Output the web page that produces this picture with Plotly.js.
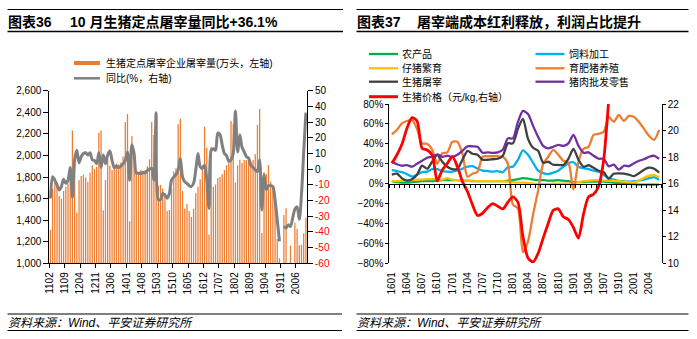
<!DOCTYPE html>
<html><head><meta charset="utf-8">
<script src="https://cdn.plot.ly/plotly-3.0.1.min.js"></script>
<style>html,body{margin:0;padding:0;background:#fff}#chart{width:697px;height:339px}</style>
</head><body><div id="chart"></div>
<script>
// ---------- Chart 36: hog slaughter volume & YoY ----------
const slaughterMonths = [
 '1102','1103','1104','1105','1106','1107','1108','1109','1110','1111','1112',
 '1201','1202','1203','1204','1205','1206','1207','1208','1209','1210','1211','1212',
 '1301','1302','1303','1304','1305','1306','1307','1308','1309','1310','1311','1312',
 '1401','1402','1403','1404','1405','1406','1407','1408','1409','1410','1411','1412',
 '1501','1502','1503','1504','1505','1506','1507','1508','1509','1510','1511','1512',
 '1601','1602','1603','1604','1605','1606','1607','1608','1609','1610','1611','1612',
 '1701','1702','1703','1704','1705','1706','1707','1708','1709','1710','1711','1712',
 '1801','1802','1803','1804','1805','1806','1807','1808','1809','1810','1811','1812',
 '1901','1902','1903','1904','1905','1906','1907','1908','1909','1910','1911','1912',
 '2001','2002','2003','2004','2005','2006','2007','2008','2009','2010'];
const slaughterVolume = [
 1310,1690,1750,1740,1625,1595,1670,1710,1740,1780,2230,
 2010,1470,1770,1810,1820,1795,1755,1840,1910,1875,1895,2210,
 2230,1490,1770,1960,1905,1865,1880,1925,1915,1935,1990,2310,
 2385,1390,2180,1990,1865,1835,1865,1835,1865,1900,1965,2310,
 2190,1800,1720,1725,1690,1650,1485,1495,1695,1850,1880,2290,
 2340,1670,1505,1550,1485,1430,1505,1650,1710,1780,1910,2265,
 2070,1265,2080,1710,1730,1790,1800,1825,1865,1910,1935,2320,
 2290,1750,1910,1960,1930,1958,1958,1950,1936,1958,2010,2282,
 2430,1280,1843,1830,1911,1757,1710,1560,1225,1046,null,1448,
 1510,null,1164,null,1377,1318,1167,1173,1278,1423];
const slaughterYoY = [
 -18.6,-4.8,-7,-10,-13.3,-11,-6.5,-9,-7,1,-18,
 6,12,4,8,10,10.5,9,10.5,6,5.5,3.5,10.5,
 1,9,3.5,9,11.5,5.5,1,2,1,2,3.5,5.5,
 11,-7,15.5,10,-2.5,-2.5,-3,-2,-2.5,-1,0,0.5,
 -7,36,-19.5,-19.5,-15.5,-16.5,-18.5,-15.5,-7,-5,-3.5,-0.5,
 7,-5,-8,-9,-10.5,-11,-9,-0.5,10,1.5,0.5,2.5,
 -7,-25,12,13,12,23,22,15.5,10,8.5,5,6,
 10,37,11,22,14,11,8,7,2.5,1,-0.5,-1.5,
 6,-26,-3.5,-13,-10.5,-10.5,-11,-19.5,-32.5,-46,null,-36.5,
 -37.5,-35.5,-36.5,-31,-25.5,-24,-32,-16,11,36];
const slaughterTickLabels = ['1102','1109','1204','1211','1306','1401','1408','1503','1510','1605','1612','1707','1802','1809','1904','1911','2006'];
const leftAxisTicks = [1000,1200,1400,1600,1800,2000,2200,2400,2600];
const rightAxisTicks = [-60,-50,-40,-30,-20,-10,0,10,20,30,40,50];
const slaughterNames = ['生猪定点屠宰企业屠宰量(万头，左轴)','同比(%，右轴)'];

// ---------- Chart 37: profit share along the chain ----------
const profitMonths = [
 '1601','1602','1603','1604','1605','1606','1607','1608','1609','1610','1611','1612',
 '1701','1702','1703','1704','1705','1706','1707','1708','1709','1710','1711','1712',
 '1801','1802','1803','1804','1805','1806','1807','1808','1809','1810','1811','1812',
 '1901','1902','1903','1904','1905','1906','1907','1908','1909','1910','1911','1912',
 '2001','2002','2003','2004','2005','2006'];
const agriProducts = [2.5,1.5,1,1,1.5,2,2.5,2.5,2.5,3,3.5,3.5, 3.5,3.5,3,3,2.5,2.5,2.5,2.5,2.5,2.5,2.5,3, 3.5,4.5,5.5,5,4,3.5,3.5,3,3,3.5,3,2.5, 1.5,1.5,1.5,2,2,2,2,1.5,1,0.5,0,0, -0.5,-1,-1,-1,-1,-1];
const feedProcessing = [13.5,12.7,11.5,9.5,7,9,11.5,12,14.5,14.5,12.5,12, 12,13.5,15,17,17.5,15,13,12.7,12,12.5,11.5,16.5, 17,24,33.5,29,21,13,10.5,9.5,11,13,17,20.5, 21.5,17,15.5,14.5,13,12,9,5.5,4,2.7,2.2,2, 2.5,3,4,5.5,6.5,4];
const pigletBreeding = [2.5,2.5,3,3.5,3.5,4,4,4.5,4.5,4.5,4,5.5, 4,3.5,3.5,3,3,2.5,2.5,2.5,2.5,2.5,2.5,2, 1.5,1,1,0.5,0,-0.5,-0.5,-0.5,0,0,0,0, 0.5,1.5,2.5,3,3.5,3.5,3,3,2.7,2.5,2,1.5, 1.3,3,6,8,8.5,6.5];
const hogFattening = [49.6,53.9,60.6,62.9,63.9,55,40.5,40,34,20,30.5,31.5, 42,42,30,7,10,12,27,27.5,27.5,27.5,27,20, -21,-25,-69,-58,-31,-7,20,27,34,29,23,21, -6,22,35,37,49,50,52,67,62,69,63,68, 67,62,55,48,44,54];
const hogSlaughter = [9,10,5.5,3,4.5,9,18,15,22,29,22,17, 14.5,15,24,33,30,29,24,24,24.5,25,28,40.5, 40.5,55,65,45,36,33,21,22,19,18.8,18.8,25, 35,24,17,18.5,16,13,11.5,5,10,10.4,10,9, 7.5,10.5,14,16,15,11];
const porkWholesaleRetail = [22,19.5,18,18.5,17,20,23,26,27,29.5,27,28, 27,29,33,37.5,37.5,37,31,31.5,31,31.5,34,45.5, 45.5,62,73,70,58,47,38,35.5,37,39,38,40.5, 49,38,31,31.5,28,25,25,17.5,19,14,18,17.5, 20.5,23,24.5,27,28,25];
const hogPrice = [17.53,18.16,18.96,20.17,20.97,20.72,18.66,18.53,18.16,16.2,17.03,17.53, 18.03,17.28,16.15,15.4,14.4,13.6,13.77,14.2,14.5,14.3,14.1,14.6, 15.0,14.6,12.0,10.4,10.1,10.75,11.9,13.0,14.0,14.1,13.5,13.3, 12.7,11.9,13.7,15.0,15.2,15.8,17.8,22.3,27,null,null,null,null,null,null,null,null,null];
const profitTickLabels = ['1601','1604','1607','1610','1701','1704','1707','1710','1801','1804','1807','1810','1901','1904','1907','1910','2001','2004'];
const profitNames = ['农产品','饲料加工','仔猪繁育','育肥猪养殖','生猪屠宰','猪肉批发零售','生猪价格（元/kg,右轴）'];
const profitColors = ['#00B050','#00B0F0','#FFC000','#ED7D31','#404040','#7030A0','#FF0000'];

// ---------- helpers ----------
const W = 697, H = 339;
const px = x => x / W, py = y => 1 - y / H;
const FONT = "'Liberation Sans', Arial, 'Noto Sans CJK SC', sans-serif";
const tf = {family: FONT, size: 10, color: '#000'};
const idx = arr => arr.map((_, i) => i);

const traces = [];
traces.push({type: 'bar', x: idx(slaughterMonths), y: slaughterVolume, xaxis: 'x', yaxis: 'y',
  marker: {color: '#ED7D31', line: {width: 0}}, name: slaughterNames[0], hoverinfo: 'skip'});
traces.push({type: 'scatter', mode: 'lines', x: idx(slaughterMonths), y: slaughterYoY, xaxis: 'x', yaxis: 'y2',
  line: {color: '#808080', width: 3, shape: 'spline', smoothing: 0.8}, connectgaps: false, name: slaughterNames[1], hoverinfo: 'skip'});

const profitSeries = [agriProducts, feedProcessing, pigletBreeding, hogFattening, hogSlaughter, porkWholesaleRetail];
profitSeries.forEach((s, k) => traces.push({type: 'scatter', mode: 'lines', x: idx(profitMonths), y: s, xaxis: 'x3', yaxis: 'y3',
  line: {color: profitColors[k], width: 2.3, shape: 'spline', smoothing: 0.7}, name: profitNames[k], hoverinfo: 'skip'}));
traces.push({type: 'scatter', mode: 'lines', x: idx(profitMonths), y: hogPrice, xaxis: 'x3', yaxis: 'y4',
  line: {color: profitColors[6], width: 2.8, shape: 'spline', smoothing: 0.7}, name: profitNames[6], hoverinfo: 'skip'});
// carrier for the zero-line category axis
traces.push({type: 'scatter', mode: 'lines', x: [], y: [], xaxis: 'x4', yaxis: 'y3', showlegend: false, hoverinfo: 'skip'});

const leftDom = [py(263.3), py(90.7)];
const rightDom = [py(263.3), py(104)];
const y3Range = [-80, 80];
const zeroPos = rightDom[0] + (0 - y3Range[0]) / (y3Range[1] - y3Range[0]) * (rightDom[1] - rightDom[0]);

const shapes = [], annotations = [];
function hline(x0, x1, y, w, c) {
  shapes.push({type: 'line', xref: 'paper', yref: 'paper', x0: px(x0), x1: px(x1), y0: py(y), y1: py(y), line: {color: c, width: w}});
}
function label(text, x, y, size, extra) {
  annotations.push(Object.assign({text: text, xref: 'paper', yref: 'paper', x: px(x), y: py(y), xanchor: 'left', yanchor: 'middle',
    showarrow: false, borderpad: 0, borderwidth: 0, font: {family: FONT, size: size, color: '#000'}}, extra || {}));
}
// frame rules
hline(7.5, 343, 9.5, 1, '#000'); hline(7.5, 343, 31.5, 1.3, '#000');
hline(7.5, 342, 314, 1, '#000'); hline(7.5, 342, 330.5, 1, '#000');
hline(356.5, 688.5, 9.5, 1, '#000'); hline(356.5, 688.5, 31.5, 1.3, '#000');
hline(356.5, 688.5, 314, 1, '#000'); hline(356.5, 688.5, 330.5, 1, '#000');
// titles
label('<b>图表36</b>', 8, 21.5, 14);
label('<b>10 月生猪定点屠宰量同比+36.1%</b>', 70, 21.5, 14);
label('<b>图表37</b>', 357, 21.5, 14);
label('<b>屠宰端成本红利释放，利润占比提升</b>', 416.5, 21.5, 14);
// sources
label('<i>资料来源：Wind、平安证券研究所</i>', 8, 322.5, 12);
label('<i>资料来源：Wind、平安证券研究所</i>', 357, 322.5, 12);
// left legend
shapes.push({type: 'rect', xref: 'paper', yref: 'paper', x0: px(74), x1: px(100), y0: py(65), y1: py(61), fillcolor: '#ED7D31', line: {width: 0}});
hline(74, 100, 78.3, 2.5, '#808080');
label(slaughterNames[0], 106, 63, 10);
label(slaughterNames[1], 106, 78.3, 10);
// right legend (two columns)
const legRows = [54, 68.3, 81.7, 96.7];
profitNames.forEach((n, k) => {
  const row = Math.floor(k / 2), col = k % 2;
  const lx = col === 0 ? 369 : 535.5;
  hline(lx, lx + 29, legRows[row], k === 6 ? 3 : 2.3, profitColors[k]);
  label(n, lx + 33, legRows[row], 10);
});

const leftTickVals = slaughterTickLabels.map(t => slaughterMonths.indexOf(t) - 0.5);
const rightTickVals = profitTickLabels.map(t => profitMonths.indexOf(t));
const zeroTickVals = idx(profitMonths).concat([profitMonths.length]).map(i => i - 0.5);

const layout = {
  width: W, height: H, autosize: false, margin: {l: 0, r: 0, t: 0, b: 0, pad: 0},
  paper_bgcolor: '#fff', plot_bgcolor: 'rgba(0,0,0,0)', showlegend: false, hovermode: false,
  bargap: 0.42, font: {family: FONT, size: 10, color: '#000'},
  xaxis: {domain: [px(49.3), px(307)], anchor: 'y', range: [-0.5, slaughterMonths.length - 0.5],
    tickmode: 'array', tickvals: leftTickVals, ticktext: slaughterTickLabels, tickangle: -90,
    ticks: 'outside', ticklen: 4, tickcolor: '#000', showline: true, linecolor: '#000', linewidth: 1,
    showgrid: false, zeroline: false, tickfont: tf},
  yaxis: {domain: leftDom, anchor: 'x', range: [1000, 2600], tickmode: 'array', tickvals: leftAxisTicks,
    tickformat: ',d', ticks: 'outside', ticklen: 5, tickcolor: '#000', showline: true, linecolor: '#000',
    showgrid: false, zeroline: false, tickfont: tf},
  yaxis2: {overlaying: 'y', side: 'right', anchor: 'x', range: [-60, 50], tickmode: 'array', tickvals: rightAxisTicks,
    ticktext: rightAxisTicks.map(v => v < 0 ? '<span style="color:#FF0000">' + v + '</span>' : String(v)),
    ticks: 'outside', ticklen: 5, tickcolor: '#000', showline: true, linecolor: '#000', showgrid: false, zeroline: false, tickfont: tf},
  xaxis3: {domain: [px(389.3), px(661.7)], anchor: 'y3', range: [-0.5, profitMonths.length - 0.5],
    tickmode: 'array', tickvals: rightTickVals, ticktext: profitTickLabels, tickangle: -90,
    ticks: 'outside', ticklen: 4, tickcolor: 'rgba(0,0,0,0)', showline: false, showgrid: false, zeroline: false, tickfont: tf},
  xaxis4: {overlaying: 'x3', anchor: 'free', position: zeroPos, range: [-0.5, profitMonths.length - 0.5],
    tickmode: 'array', tickvals: zeroTickVals, ticks: 'outside', ticklen: 3, tickcolor: '#000', showticklabels: false,
    showline: true, linecolor: '#000', linewidth: 1, showgrid: false, zeroline: false},
  yaxis3: {domain: rightDom, anchor: 'x3', range: y3Range, dtick: 20, tick0: 0, ticksuffix: '%',
    ticks: 'outside', ticklen: 3, tickcolor: '#000', showline: true, linecolor: '#000', showgrid: false, zeroline: false, tickfont: tf},
  yaxis4: {overlaying: 'y3', side: 'right', anchor: 'x3', range: [10, 22], dtick: 2, tick0: 10,
    ticks: 'outside', ticklen: 3, tickcolor: '#000', showline: true, linecolor: '#000', showgrid: false, zeroline: false, tickfont: tf},
  shapes: shapes, annotations: annotations
};

Plotly.newPlot('chart', traces, layout, {staticPlot: true, displayModeBar: false});
</script></body></html>
